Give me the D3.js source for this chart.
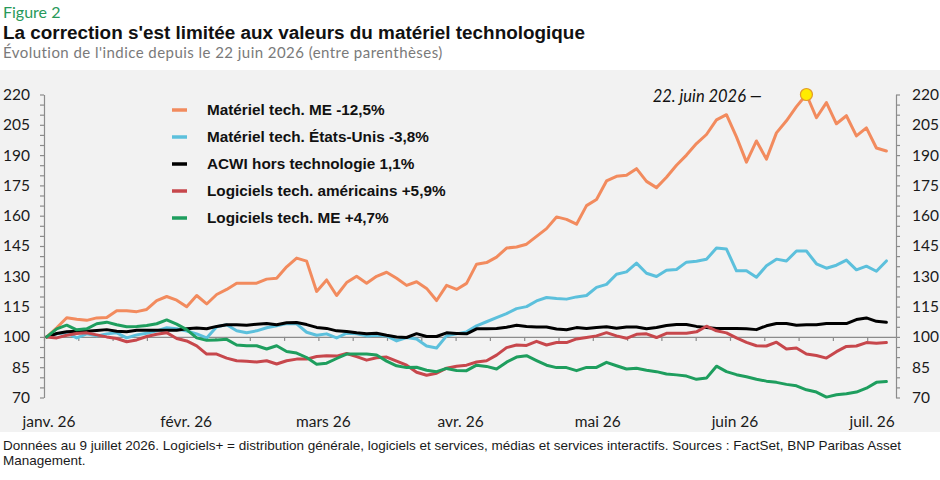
<!DOCTYPE html>
<html><head><meta charset="utf-8">
<script src="https://cdn.jsdelivr.net/npm/d3@7"></script>
<style>body{margin:0;background:#fff}svg{display:block}</style>
</head><body><svg id="c" width="940" height="480"></svg>
<script>
// ---------- data ----------
const monthLabels = ["janv. 26","févr. 26","mars 26","avr. 26","mai 26","juin 26","juil. 26"];
const yLabels = [70,85,100,115,130,145,160,175,190,205,220];
const seriesNames = [
  "Matériel tech. ME -12,5%",
  "Matériel tech. États-Unis -3,8%",
  "ACWI hors technologie 1,1%",
  "Logiciels tech. américains +5,9%",
  "Logiciels tech. ME +4,7%"
];
const materielME = [100,104.5,109.5,108.7,108.2,109.4,109.6,113,113,112.5,
113.6,118,120,118.2,114.9,120.5,116.3,121,123.5,126.6,
126.6,126.6,128.6,129,134.7,139,137.5,122.5,128.2,120.5,
126.9,130,126.6,130,132,129,125.5,127.3,124,118,
125.5,123.5,126.5,136,136.8,139.5,144,144.5,145.9,149.8,
153.6,159.4,158.2,155.8,165,168,177.2,179.5,180,183.3,
177,173.9,179,185,190,195.7,200.2,207.4,210,199,
186.5,197,188,201,207,214,220,208.5,216,205.5,
209.5,199.5,203.5,193.5,192];
const materielUS = [100,101.5,102,99.5,101.5,100.5,101.5,102,99.5,101,
101.8,103,104.5,104,102.9,101.5,99.5,105,106,103,
102.1,103,104.5,105.5,106.6,106.5,102.3,100.8,101.5,99.5,
101.8,101.5,100.5,100.8,100.5,98,99.7,99,95.5,94.5,
100.5,101.5,102.5,105.5,107.5,109.5,111.5,114,115,117.8,
119.5,119,118.7,119.8,120.5,124.5,126,131,132.2,136.5,
131.5,129.9,133,133.4,137,137.5,138.4,144,143.5,132.7,
132.7,129.5,135.2,138.5,137.6,142.5,142.5,136.2,134,135.5,
138,133.2,135,132.5,137.6];
const acwiExTech = [100,101.7,102.5,102.8,102.8,103.2,103.6,102.8,102.5,103.3,
103.3,103.3,103.3,103.3,104,104.4,104,105.2,106,106,
105.8,106.3,106.6,106,107,107.1,106.1,104.7,104.2,103,
102.7,102,101.6,101.8,100.8,100,99.7,101.6,100.2,100.2,
102,101.7,101.5,104,104,104.2,104.8,105.8,105.2,104.9,
104.9,103.9,103.5,104.6,104.2,104.7,105,104.3,104.9,104.9,
104,104.7,105.6,106.1,106.1,105.2,104.6,104.2,104.2,104.2,
104,103.6,105.5,106.6,106.6,105.8,106,106,106.6,106.6,
106.6,108.6,109.4,107.7,107.2];
const logicielsUS = [100,99.5,100.8,101.7,102,101,100,99.2,97.6,98.5,
100.2,101.3,102.1,99.2,98,95.6,91.5,91.5,89.5,88.2,
88,87.6,88.2,86.6,88.2,89,89,90.3,90.7,90.5,
91.8,90.2,88.5,89.7,90,88,86,82.5,81,82,
84.5,85.5,86,87.6,88.2,91,94.7,96,95.8,97.8,
96,97.2,97.2,99,99.7,100.5,102.1,100.5,99.3,101.3,
101.5,99.7,101.8,101.8,101.8,102.5,105.3,103,102,99.5,
97.3,95.6,95.5,97.4,94,94.5,91.5,90.8,89.5,92.7,
95.3,95.5,97.2,96.8,97.2];
const logicielsME = [100,104,105.8,103.5,104,106.5,107.3,106,105,105.2,
105.6,106.5,108.4,106.3,103.6,99.5,98.3,98.5,98.8,96,
95.6,95.6,94,95.6,92.8,92,89.8,86.5,87,89.3,
91.5,91.5,91.5,91,88,85.7,84.8,85,83.5,82.8,
84.4,83.4,83.3,86,85.4,84.1,87.5,90,90.7,88.3,
86,84.8,84.8,83.3,84.9,84.9,87.4,85.7,84.1,84.5,
83.5,82.8,81.6,81.2,80.6,79,79.6,85.5,82.8,81.3,
80.3,79,78.1,77.5,76.5,75.8,73.8,72.7,70.2,71.4,
71.9,72.7,74.6,77.5,77.9];
const allSeries = [materielME, materielUS, acwiExTech, logicielsUS, logicielsME];
// time position of the data (months since 1 Jan 2026)
const firstMonth = 0.02, lastMonth = 6.14, axisEndMonth = 6.21;
const peakIndex = 76; // 22 juin 2026 marker on Matériel tech. ME

// ---------- styles ----------
const colors = ["#F28B5E","#5CC0DC","#000000","#C7474C","#1E9E5E"];
const axisColor = "#8c8c8c";

const svg = d3.select("#c");
svg.append("rect").attr("x",0).attr("y",0).attr("width",940).attr("height",480).attr("fill","#ffffff");
svg.append("rect").attr("x",0).attr("y",70).attr("width",940).attr("height",362).attr("fill","#f2f2f2");

// titles
svg.append("text").attr("x",3).attr("y",18).text("Figure 2")
  .attr("font-family","Lato, 'Open Sans', sans-serif").attr("font-size",16).attr("fill","#27995a");
svg.append("text").attr("x",3).attr("y",39).text("La correction s'est limitée aux valeurs du matériel technologique")
  .attr("font-family","'Liberation Sans', Arial, sans-serif").attr("font-weight","bold").attr("font-size",18.9).attr("fill","#111");
svg.append("text").attr("x",3).attr("y",58).text("Évolution de l'indice depuis le 22 juin 2026 (entre parenthèses)")
  .attr("font-family","Lato, 'Open Sans', sans-serif").attr("font-size",15).attr("letter-spacing",0.45).attr("fill","#7a7a7a");

// scales
const x = d3.scaleLinear().domain([0, axisEndMonth]).range([44, 896]);
const y = d3.scaleLinear().domain([70, 220]).range([397.5, 94.5]);
const n = materielME.length;
const xi = i => x(firstMonth + i * (lastMonth - firstMonth) / (n - 1));

const fontAxis = "Lato, 'Open Sans', sans-serif";
const yTicks = d3.range(70, 221, 5);
function styleAxis(g){
  g.selectAll("path.domain").attr("stroke",axisColor).attr("stroke-width",1.2);
  g.selectAll(".tick line").attr("stroke",axisColor).attr("stroke-width",1.2);
  g.selectAll(".tick text").attr("font-family",fontAxis).attr("font-size",15.5).attr("fill","#1a1a1a");
}
const fmt = v => yLabels.includes(v) ? String(v) : "";
svg.append("g").attr("transform",`translate(${x(0)},0)`)
  .call(d3.axisLeft(y).tickValues(yTicks).tickFormat(fmt).tickSizeInner(4).tickSizeOuter(0).tickPadding(10))
  .call(styleAxis);
svg.append("g").attr("transform",`translate(${x(axisEndMonth)},0)`)
  .call(d3.axisRight(y).tickValues(yTicks).tickFormat(fmt).tickSizeInner(4).tickSizeOuter(0).tickPadding(12))
  .call(styleAxis);
// horizontal axis on the 100 line
svg.append("g").attr("transform",`translate(0,${y(100)})`)
  .call(d3.axisBottom(x).tickValues(d3.range(0, axisEndMonth, 0.25)).tickFormat("").tickSizeInner(4).tickSizeOuter(0))
  .call(styleAxis);
// month labels
svg.append("g").selectAll("text").data(monthLabels).join("text")
  .attr("x",(d,i)=>x(i)+5).attr("y",427).attr("text-anchor","middle")
  .attr("font-family",fontAxis).attr("font-size",15.5).attr("fill","#1a1a1a").text(d=>d);

// lines
const line = d3.line().x((d,i)=>xi(i)).y(d=>y(d));
svg.append("g").selectAll("path").data(allSeries).join("path")
  .attr("d",line).attr("fill","none").attr("stroke",(d,i)=>colors[i])
  .attr("stroke-width",3).attr("stroke-linejoin","round").attr("stroke-linecap","round");

// legend
const lg = svg.append("g");
seriesNames.forEach((name,i)=>{
  const yy = 110 + i*27;
  lg.append("line").attr("x1",172).attr("x2",187).attr("y1",yy).attr("y2",yy)
    .attr("stroke",colors[i]).attr("stroke-width",3.5);
  lg.append("text").attr("x",207).attr("y",yy+5).text(name)
    .attr("font-family","'Liberation Sans', Arial, sans-serif").attr("font-weight","bold")
    .attr("font-size",15.3).attr("fill","#111");
});

// annotation
svg.append("text").attr("x",762).attr("y",102).attr("text-anchor","end")
  .attr("font-family","Lato, 'Open Sans', sans-serif").attr("font-style","italic").attr("font-size",16.5)
  .attr("fill","#111").text("22. juin 2026 —");
svg.append("circle").attr("cx",xi(peakIndex)).attr("cy",y(materielME[peakIndex])).attr("r",6)
  .attr("fill","#ffeb00").attr("stroke","#e39a2a").attr("stroke-width",1.2);

// footnote
const fn = svg.append("text").attr("font-family","'Liberation Sans', Arial, sans-serif").attr("font-size",13.5).attr("fill","#1a1a1a");
fn.append("tspan").attr("x",3).attr("y",450).text("Données au 9 juillet 2026. Logiciels+ = distribution générale, logiciels et services, médias et services interactifs. Sources : FactSet, BNP Paribas Asset");
fn.append("tspan").attr("x",3).attr("y",465).text("Management.");
</script></body></html>
